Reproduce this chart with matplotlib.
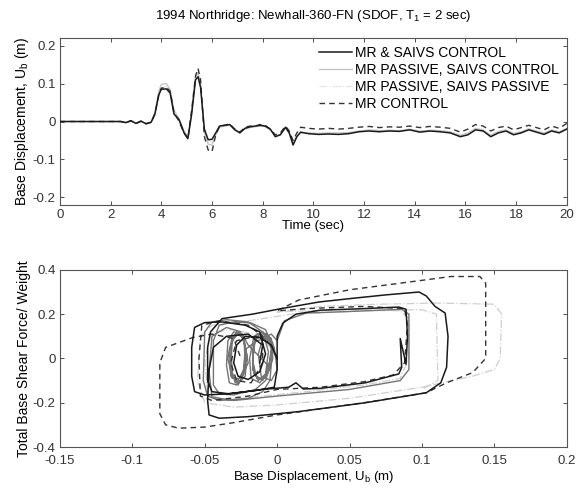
import matplotlib
matplotlib.use('Agg')
import matplotlib.pyplot as plt

plt.rcParams['font.family'] = ['Liberation Sans', 'DejaVu Sans']

# ---- time history data ----
time = [0, 2.4, 2.6, 2.8, 3.0, 3.2, 3.4, 3.6, 3.75, 3.9, 4.0, 4.2, 4.35, 4.5, 4.7, 4.9, 5.05, 5.2,
        5.35, 5.45, 5.55, 5.7, 5.85, 6.0, 6.15, 6.3, 6.5, 6.7, 6.9, 7.1, 7.3, 7.5, 7.7, 7.9, 8.1,
        8.3, 8.5, 8.7, 8.9, 9.05, 9.2, 9.35, 9.5, 9.8, 10.2, 10.6, 11.0, 11.4, 11.8, 12.2, 12.6,
        13.0, 13.4, 13.8, 14.2, 14.6, 15.0, 15.4, 15.8, 16.1, 16.4, 16.7, 17.0, 17.3, 17.6, 17.9,
        18.2, 18.5, 18.8, 19.1, 19.4, 19.7, 20.0]

ub_mr_saivs_ctrl = [0, 0, -0.003, 0.002, -0.005, 0.001, -0.006, -0.002, 0.02, 0.07, 0.085, 0.086,
                    0.075, 0.02, 0.005, -0.03, -0.045, 0.02, 0.11, 0.118, 0.09, -0.02, -0.048, -0.047,
                    -0.03, -0.012, -0.01, -0.008, -0.022, -0.03, -0.018, -0.014, -0.012, -0.01, -0.012,
                    -0.02, -0.04, -0.035, -0.015, -0.03, -0.062, -0.04, -0.028, -0.032, -0.034, -0.033,
                    -0.034, -0.032, -0.027, -0.025, -0.027, -0.025, -0.026, -0.022, -0.028, -0.025,
                    -0.027, -0.03, -0.04, -0.035, -0.022, -0.025, -0.04, -0.03, -0.025, -0.035, -0.03,
                    -0.022, -0.028, -0.034, -0.025, -0.03, -0.02]

ub_mrpass_saivs_ctrl = [0, 0, -0.002, 0.001, -0.004, 0.0, -0.005, -0.001, 0.025, 0.08, 0.098, 0.1,
                        0.085, 0.03, 0.008, -0.025, -0.04, 0.03, 0.115, 0.13, 0.1, -0.03, -0.06, -0.062,
                        -0.035, -0.015, -0.012, -0.01, -0.02, -0.028, -0.02, -0.016, -0.014, -0.012, -0.014,
                        -0.022, -0.038, -0.033, -0.018, -0.032, -0.058, -0.038, -0.03, -0.03, -0.031, -0.03,
                        -0.03, -0.029, -0.025, -0.022, -0.024, -0.023, -0.024, -0.02, -0.025, -0.023,
                        -0.024, -0.027, -0.036, -0.03, -0.018, -0.022, -0.036, -0.026, -0.022, -0.031, -0.027,
                        -0.019, -0.025, -0.03, -0.022, -0.027, -0.018]

ub_mrpass_saivs_pass = [0, 0, -0.003, 0.002, -0.005, 0.001, -0.006, -0.002, 0.022, 0.075, 0.09, 0.092,
                        0.08, 0.025, 0.004, -0.032, -0.05, 0.025, 0.115, 0.128, 0.095, -0.025, -0.055, -0.055,
                        -0.032, -0.014, -0.011, -0.009, -0.021, -0.029, -0.019, -0.015, -0.013, -0.011, -0.013,
                        -0.021, -0.039, -0.034, -0.016, -0.031, -0.06, -0.039, -0.029, -0.031, -0.032, -0.031,
                        -0.032, -0.03, -0.026, -0.024, -0.026, -0.024, -0.025, -0.021, -0.027, -0.024,
                        -0.026, -0.029, -0.038, -0.033, -0.02, -0.024, -0.038, -0.028, -0.024, -0.033, -0.029,
                        -0.021, -0.027, -0.032, -0.024, -0.029, -0.019]

ub_mr_ctrl = [0, 0, -0.003, 0.002, -0.005, 0.001, -0.006, -0.002, 0.02, 0.07, 0.088, 0.09,
              0.08, 0.025, 0.0, -0.03, -0.045, 0.03, 0.12, 0.14, 0.11, -0.04, -0.075, -0.08,
              -0.035, -0.012, -0.01, -0.006, -0.02, -0.028, -0.015, -0.012, -0.012, -0.008, -0.01,
              -0.02, -0.035, -0.03, -0.012, -0.025, -0.05, -0.03, -0.015, -0.018, -0.02, -0.018,
              -0.02, -0.018, -0.015, -0.013, -0.016, -0.014, -0.015, -0.012, -0.016, -0.013,
              -0.015, -0.018, -0.028, -0.02, -0.008, -0.012, -0.025, -0.016, -0.012, -0.022, -0.016,
              -0.01, -0.016, -0.022, -0.012, -0.018, -0.005]

# ---- hysteresis data: (base displacement m, base shear / weight) ----
hyst_mr_saivs_ctrl = [
    (0.000, 0.000), (-0.004, 0.060), (-0.012, 0.095), (-0.022, 0.100), (-0.028, 0.060),
    (-0.030, -0.020), (-0.027, -0.080), (-0.020, -0.095), (-0.012, -0.060), (-0.008, 0.020),
    (-0.012, 0.120), (-0.022, 0.150), (-0.038, 0.165), (-0.050, 0.162), (-0.057, 0.140),
    (-0.059, 0.050), (-0.059, -0.080), (-0.057, -0.150), (-0.050, -0.165), (-0.035, -0.160),
    (-0.015, -0.145), (-0.002, -0.130), (0.000, -0.050), (0.000, 0.100), (0.004, 0.160),
    (0.013, 0.200), (0.030, 0.218), (0.060, 0.225), (0.084, 0.232), (0.089, 0.222),
    (0.090, 0.100), (0.089, -0.026), (0.085, 0.090), (0.086, -0.040), (0.084, -0.070),
    (0.061, -0.110), (0.030, -0.135), (0.018, -0.138), (0.013, -0.110), (0.008, -0.130),
    (-0.010, -0.140), (-0.033, -0.160), (-0.045, -0.150), (-0.048, -0.100), (-0.048, 0.050),
    (-0.046, 0.120), (-0.038, 0.180), (-0.017, 0.200), (0.002, 0.224), (0.029, 0.255),
    (0.050, 0.270), (0.075, 0.287), (0.098, 0.300), (0.103, 0.282), (0.109, 0.235),
    (0.116, 0.205), (0.118, 0.100), (0.117, -0.040), (0.113, -0.110), (0.103, -0.155),
    (0.061, -0.200), (0.015, -0.240), (-0.020, -0.263), (-0.040, -0.270), (-0.047, -0.255),
    (-0.048, -0.190), (-0.047, -0.050), (-0.044, 0.050), (-0.035, 0.100), (-0.020, 0.110),
    (-0.010, 0.060), (-0.012, -0.020)]

hyst_mrpass_saivs_ctrl = [
    (0.000, 0.000), (-0.010, 0.120), (-0.020, 0.165), (-0.035, 0.175), (-0.045, 0.165),
    (-0.050, 0.120), (-0.051, -0.100), (-0.048, -0.170), (-0.040, -0.190), (-0.020, -0.180),
    (-0.010, -0.150), (-0.005, -0.100), (-0.003, 0.050), (-0.008, 0.130), (-0.018, 0.160),
    (-0.030, 0.165), (-0.040, 0.150), (-0.044, 0.080), (-0.044, -0.120), (-0.040, -0.160),
    (-0.030, -0.165), (-0.015, -0.140), (-0.008, -0.100), (-0.003, 0.000), (-0.004, 0.090),
    (-0.010, 0.120), (-0.016, 0.100), (-0.019, 0.000), (-0.018, -0.090), (-0.012, -0.110),
    (-0.006, -0.060), (-0.004, 0.050), (-0.008, 0.110), (-0.014, 0.110), (-0.017, 0.030),
    (-0.016, -0.070), (-0.010, -0.100), (-0.005, -0.040), (-0.020, 0.060), (-0.024, 0.110),
    (-0.030, 0.120), (-0.034, 0.080), (-0.035, -0.030), (-0.033, -0.110), (-0.028, -0.120),
    (-0.022, -0.080), (-0.021, 0.020), (-0.024, 0.100), (-0.029, 0.110), (-0.033, 0.040),
    (-0.032, -0.080), (-0.027, -0.100), (-0.023, -0.050), (-0.022, 0.060), (-0.026, 0.120),
    (-0.031, 0.100), (-0.034, 0.000), (-0.031, -0.090), (-0.025, -0.090), (-0.020, -0.020),
    (-0.023, 0.090), (-0.027, 0.110), (-0.031, 0.080), (-0.032, -0.040), (-0.029, -0.110),
    (-0.025, -0.100), (-0.022, -0.020), (-0.023, 0.100), (-0.028, 0.120), (-0.032, 0.060),
    (-0.031, -0.070), (-0.027, -0.120), (-0.023, -0.070), (-0.022, 0.040), (-0.014, 0.080),
    (-0.008, 0.090), (-0.012, 0.110), (-0.016, 0.070), (-0.017, -0.050), (-0.013, -0.100),
    (-0.008, -0.070), (-0.006, 0.030), (-0.009, 0.100), (-0.015, 0.090), (-0.017, -0.010),
    (-0.014, -0.090), (-0.009, -0.090), (-0.005, -0.010), (-0.003, 0.070), (-0.007, 0.110),
    (-0.002, 0.050), (0.000, -0.050), (-0.004, -0.100), (-0.011, -0.080), (-0.013, 0.020),
    (-0.010, 0.090), (-0.004, 0.110), (0.000, 0.080), (0.005, 0.170), (0.020, 0.205),
    (0.050, 0.212), (0.086, 0.222), (0.091, 0.200), (0.091, -0.050), (0.085, -0.100),
    (0.050, -0.140), (0.000, -0.170), (-0.030, -0.190), (-0.045, -0.175), (-0.047, -0.060),
    (-0.045, 0.100), (-0.035, 0.140), (-0.025, 0.120)]

hyst_mrpass_saivs_pass = [
    (0.000, 0.000), (-0.010, 0.100), (-0.030, 0.130), (-0.045, 0.120), (-0.050, 0.000),
    (-0.048, -0.160), (-0.035, -0.190), (-0.010, -0.170), (0.020, -0.150), (0.060, -0.120),
    (0.085, -0.090), (0.091, 0.000), (0.091, 0.180), (0.085, 0.215), (0.050, 0.220),
    (0.020, 0.215), (0.000, 0.210), (0.030, 0.235), (0.070, 0.245), (0.110, 0.250),
    (0.150, 0.245), (0.155, 0.200), (0.154, 0.000), (0.150, -0.050), (0.135, -0.080),
    (0.100, -0.130), (0.050, -0.180), (0.000, -0.210), (-0.030, -0.220), (-0.050, -0.200),
    (-0.055, -0.100), (-0.053, 0.100), (-0.045, 0.150), (-0.020, 0.170), (0.010, 0.200),
    (0.060, 0.215), (0.100, 0.220), (0.110, 0.200), (0.111, -0.100), (0.100, -0.140)]

hyst_mr_ctrl = [
    (0.000, 0.000), (-0.005, 0.070), (-0.015, 0.100), (-0.028, 0.080), (-0.032, -0.020),
    (-0.028, -0.100), (-0.018, -0.110), (-0.010, -0.020), (-0.010, 0.100), (-0.020, 0.150),
    (-0.040, 0.170), (-0.052, 0.150), (-0.054, 0.000), (-0.053, -0.170), (-0.045, -0.190),
    (-0.020, -0.170), (0.000, -0.140), (0.030, -0.130), (0.060, -0.105), (0.080, -0.075),
    (0.088, -0.020), (0.090, 0.150), (0.088, 0.225), (0.060, 0.235), (0.020, 0.225),
    (0.000, 0.215), (0.015, 0.264), (0.050, 0.310), (0.091, 0.345), (0.120, 0.370),
    (0.140, 0.370), (0.144, 0.340), (0.144, 0.000), (0.135, -0.064), (0.117, -0.110),
    (0.103, -0.155), (0.060, -0.200), (0.000, -0.255), (-0.030, -0.290), (-0.050, -0.310),
    (-0.068, -0.315), (-0.077, -0.300), (-0.081, -0.250), (-0.081, -0.020), (-0.077, 0.050),
    (-0.058, 0.095), (-0.045, 0.110), (-0.030, 0.090), (-0.025, 0.000)]

labels = ['MR & SAIVS CONTROL', 'MR PASSIVE, SAIVS CONTROL',
          'MR PASSIVE, SAIVS PASSIVE', 'MR CONTROL']

fig = plt.figure(figsize=(5.76, 4.88), dpi=100)
ax1 = fig.add_axes([0.104, 0.580, 0.880, 0.342])
ax2 = fig.add_axes([0.104, 0.084, 0.880, 0.363])

# top: time history
ax1.plot(time, ub_mr_saivs_ctrl, color='#1a1a1a', lw=1.1, label=labels[0], zorder=4)
ax1.plot(time, ub_mrpass_saivs_ctrl, color='#c4c4c4', lw=0.9, label=labels[1], zorder=2)
ax1.plot(time, ub_mrpass_saivs_pass, color='#e6e6e6', lw=0.9, ls='-.', label=labels[2], zorder=1)
ax1.plot(time, ub_mr_ctrl, color='#333333', lw=1.0, ls=(0, (4, 3)), label=labels[3], zorder=3)

ax1.set_xlim(0, 20)
ax1.set_ylim(-0.22, 0.22)
ax1.set_xticks(range(0, 21, 2))
ax1.set_yticks([-0.2, -0.1, 0, 0.1, 0.2])
ax1.set_yticklabels(['-0.2', '-0.1', '0', '0.1', '0.2'])
ax1.set_xlabel('Time (sec)', fontsize=9.5, labelpad=-1)
ax1.set_ylabel(r'Base Displacement, U$_\mathregular{b}$ (m)', fontsize=10, labelpad=1)
ax1.set_title(r'1994 Northridge: Newhall-360-FN (SDOF, T$_\mathregular{1}$ = 2 sec)',
              fontsize=9.5, pad=14)
ax1.legend(loc='upper right', frameon=False, fontsize=10, handlelength=2.4,
           handletextpad=0.2, labelspacing=0.22, borderaxespad=0.15)

# bottom: hysteresis
for pts, col, ls, lw, z in [(hyst_mrpass_saivs_pass, '#cfcfcf', '-.', 0.9, 1),
                            (hyst_mrpass_saivs_ctrl, '#747474', '-', 1.0, 2),
                            (hyst_mr_ctrl, '#333333', (0, (4, 3)), 1.0, 3),
                            (hyst_mr_saivs_ctrl, '#1a1a1a', '-', 1.1, 4)]:
    d, f = zip(*pts)
    ax2.plot(d, f, color=col, ls=ls, lw=lw, zorder=z)

ax2.set_xlim(-0.15, 0.2)
ax2.set_ylim(-0.4, 0.4)
ax2.set_xticks([-0.15, -0.1, -0.05, 0, 0.05, 0.1, 0.15, 0.2])
ax2.set_xticklabels(['-0.15', '-0.1', '-0.05', '0', '0.05', '0.1', '0.15', '0.2'])
ax2.set_yticks([-0.4, -0.2, 0, 0.2, 0.4])
ax2.set_yticklabels(['-0.4', '-0.2', '0', '0.2', '0.4'])
ax2.set_xlabel(r'Base Displacement, U$_\mathregular{b}$ (m)', fontsize=9.5, labelpad=1)
ax2.set_ylabel('Total Base Shear Force/ Weight', fontsize=10, labelpad=1)

for ax in (ax1, ax2):
    ax.tick_params(direction='in', length=3, width=0.6, labelsize=9.5, top=True, right=True,
                   colors='#333333', pad=3)
    for s in ax.spines.values():
        s.set_color('#555555')
        s.set_linewidth(0.8)
ax2.tick_params(axis='x', pad=6)

fig.savefig('out.png', dpi=100)
